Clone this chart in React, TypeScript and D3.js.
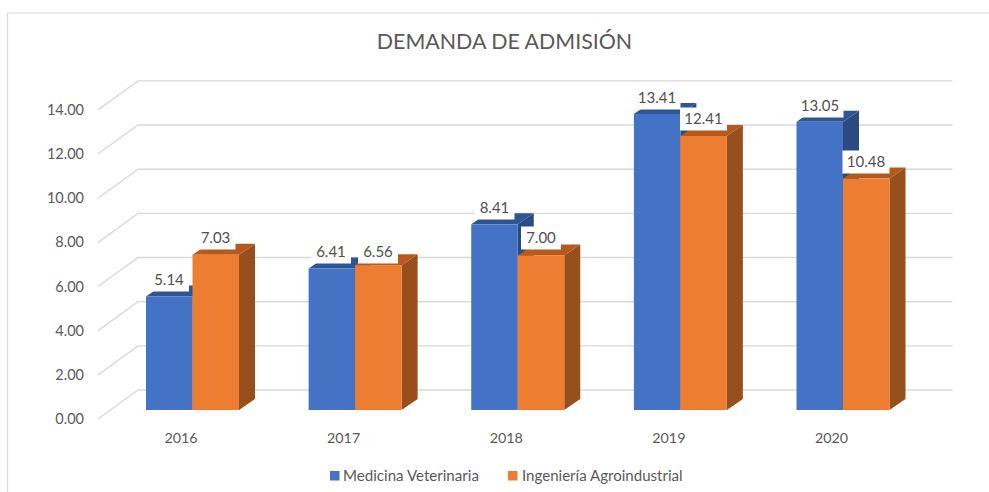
import React from "react";
import * as d3 from "d3";

const years = ["2016", "2017", "2018", "2019", "2020"];
const medicina = [5.14, 6.41, 8.41, 13.41, 13.05];
const ingenieria = [7.03, 6.56, 7.0, 12.41, 10.48];
const medicinaLabels = [[169, 280], [331, 252], [494.5, 208], [657, 98], [820, 106]];
const ingenieriaLabels = [[215.5, 238], [378, 252], [541, 238], [703.5, 119], [866, 162]];
const ticks = [0, 2, 4, 6, 8, 10, 12, 14];

const font = "Lato, 'Open Sans', sans-serif";
const grey = "#595959";
const unit = 22.08;
const x = d3.scalePoint<string>().domain(years).range([181, 831.5]);
const yBack = d3.scaleLinear().domain([0, 14]).range([390, 390 - 14 * unit]);
const yFront = d3.scaleLinear().domain([0, 14]).range([419, 419 - 14 * unit]);
const yBar = d3.scaleLinear().domain([0, 14]).range([410, 410 - 14 * unit]);
const barW = 46.5;
const dx = 16;
const dy = 11;

function Bar({ x0, v, front, top, side }: { x0: number; v: number; front: string; top: string; side: string }) {
  const yt = yBar(v);
  const yb = yBar(0);
  const x1 = x0 + barW;
  return (
    <g>
      <polygon points={`${x1},${yt} ${x1 + dx},${yt - dy} ${x1 + dx},${yb - dy} ${x1},${yb}`} fill={side} />
      <polygon points={`${x0},${yt} ${x0 + dx},${yt - dy} ${x1 + dx},${yt - dy} ${x1},${yt}`} fill={top} />
      <rect x={x0} y={yt} width={barW} height={yb - yt} fill={front} />
    </g>
  );
}

function Label({ cx, cy, v }: { cx: number; cy: number; v: number }) {
  const s = v.toFixed(2);
  const w = s.length === 5 ? 47 : 40;
  return (
    <g>
      <rect x={cx - w / 2} y={cy - 11.5} width={w} height={23} fill="#fff" />
      <text x={cx} y={cy} dy="0.35em" textAnchor="middle" fontSize={15} fill="#505050" fontFamily={font}>{s}</text>
    </g>
  );
}

export default function App() {
  return (
    <svg width={989} height={492} style={{ position: "absolute", left: 0, top: 0, background: "#fff" }}>
      <path d="M7.5,492 V13 H989" fill="none" stroke="#D9D9D9" strokeWidth={1.2} />
      <text x={504.5} y={41.5} dy="0.35em" textAnchor="middle" fontSize={21.4} fill={grey} fontFamily={font}>DEMANDA DE ADMISIÓN</text>
      {ticks.map((t) => (
        <g key={t}>
          <path d={`M98,${yFront(t)} L138,${yBack(t)} H952.5`} fill="none" stroke="#D9D9D9" strokeWidth={1.4} />
          <text x={84} y={yFront(t)} dy="0.35em" textAnchor="end" fontSize={14.5} fill={grey} fontFamily={font}>{t.toFixed(2)}</text>
        </g>
      ))}
      {years.map((yr, i) => {
        const c = x(yr)!;
        return (
          <g key={yr}>
            <Bar x0={c - 35} v={medicina[i]} front="#4472C4" top="#2F5597" side="#2B4A80" />
            <Bar x0={c - 35 + barW} v={ingenieria[i]} front="#ED7D31" top="#B5591F" side="#974F1C" />
            <text x={c} y={438} dy="0.35em" textAnchor="middle" fontSize={14.3} fill={grey} fontFamily={font}>{yr}</text>
          </g>
        );
      })}
      {years.map((yr, i) => (
        <g key={yr}>
          <Label cx={medicinaLabels[i][0]} cy={medicinaLabels[i][1]} v={medicina[i]} />
          <Label cx={ingenieriaLabels[i][0]} cy={ingenieriaLabels[i][1]} v={ingenieria[i]} />
        </g>
      ))}
      <rect x={330} y={471} width={9.5} height={9.5} fill="#4472C4" />
      <text x={343} y={476} dy="0.35em" fontSize={15.1} fill={grey} fontFamily={font}>Medicina Veterinaria</text>
      <rect x={508} y={471} width={9.5} height={9.5} fill="#ED7D31" />
      <text x={522} y={476} dy="0.35em" fontSize={15.05} fill={grey} fontFamily={font}>Ingeniería Agroindustrial</text>
    </svg>
  );
}
